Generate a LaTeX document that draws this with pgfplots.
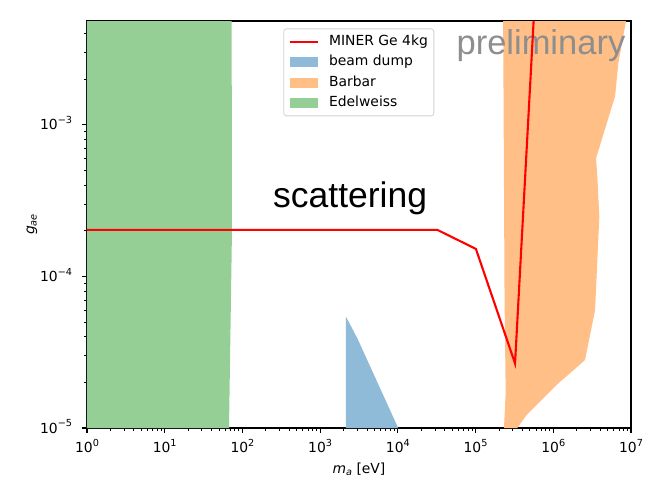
\documentclass[border=0pt]{standalone}
\usepackage{fontspec}
\setmainfont{DejaVu Sans}
\newfontfamily\helv{Liberation Sans}
\usepackage{pgfplots}
\pgfplotsset{compat=1.18}
\definecolor{cblue}{HTML}{8FBBD9}
\definecolor{corange}{HTML}{FFBF86}
\definecolor{cgreen}{HTML}{95CF95}
\definecolor{cgray}{HTML}{8E8E8E}
\pgfplotsset{
  linelegend/.style={legend image code/.code={\draw[##1, draw opacity=1] (0bp,0bp) -- (27.8bp,0bp);}},
  patchlegend/.style={legend image code/.code={\fill[##1, fill opacity=1, sharp corners] (0bp,-4.9bp) rectangle (27.8bp,4.9bp);}},
}
\newcommand\sups[1]{\raisebox{6.3bp}{\fontsize{9.7bp}{10bp}\selectfont #1}}
\newcommand\subs[1]{\raisebox{-2.2bp}{\fontsize{9.7bp}{10bp}\selectfont #1}}
\begin{document}
\fontsize{13.9bp}{16.7bp}\selectfont
\begin{tikzpicture}
\begin{axis}[
  scale only axis, width=544bp, height=407bp,
  xmode=log, ymode=log,
  xmin=1, xmax=1e7, ymin=1e-5, ymax=4.85e-3,
  axis line style={line width=1.1bp},
  tick pos=left, tick align=outside,
  major tick length=4.9bp, minor tick length=2.8bp,
  every tick/.style={black, line width=1.1bp},
  every minor tick/.style={black, line width=0.85bp},
  xtick={1,10,100,1000,10000,100000,1000000,10000000},
  xticklabels={10\sups{0},10\sups{1},10\sups{2},10\sups{3},10\sups{4},10\sups{5},10\sups{6},10\sups{7}},
  minor xtick={2,3,4,5,6,7,8,9,20,30,40,50,60,70,80,90,200,300,400,500,600,700,800,900,2e3,3e3,4e3,5e3,6e3,7e3,8e3,9e3,2e4,3e4,4e4,5e4,6e4,7e4,8e4,9e4,2e5,3e5,4e5,5e5,6e5,7e5,8e5,9e5,2e6,3e6,4e6,5e6,6e6,7e6,8e6,9e6},
  ytick={1e-5,1e-4,1e-3},
  yticklabels={10\sups{−5},10\sups{−4},10\sups{−3}},
  minor ytick={2e-5,3e-5,4e-5,5e-5,6e-5,7e-5,8e-5,9e-5,2e-4,3e-4,4e-4,5e-4,6e-4,7e-4,8e-4,9e-4,2e-3,3e-3,4e-3},
  xticklabel style={anchor=base, yshift=-20bp, inner sep=0pt, font=\fontsize{13.9bp}{16bp}\selectfont},
  yticklabel style={anchor=base east, xshift=-9.8bp, yshift=-5bp, inner sep=0pt, font=\fontsize{13.9bp}{16bp}\selectfont},
  xlabel={\textit{m}\subs{\textit{a}} [eV]},
  ylabel={\textit{g}\subs{\textit{ae}}},
  xlabel style={at={(axis description cs:0.5,0)}, anchor=base, yshift=-45bp, inner sep=0pt, font=\fontsize{13.9bp}{16bp}\selectfont},
  ylabel style={at={(axis description cs:-0.1011,0.5)}, anchor=center, inner sep=0pt, font=\fontsize{13.9bp}{16bp}\selectfont},
  legend cell align=left,
  legend style={at={(0.3608,0.9816)}, anchor=north west, draw=black!18, line width=0.8bp,
    rounded corners=2.8bp, fill=white, fill opacity=0.8, draw opacity=1, text opacity=1,
    font=\fontsize{13.9bp}{16bp}\selectfont, inner xsep=5bp, inner ysep=5bp,
    row sep=5bp, column sep=9.5bp,
    nodes={inner sep=1bp, text height=10.5bp, text depth=3bp}},
]
\addlegendimage{red, line width=2.1bp, linelegend}
\addlegendentry{MINER Ge 4kg}
\addlegendimage{fill=cblue, draw=none, patchlegend}
\addlegendentry{beam dump}
\addlegendimage{fill=corange, draw=none, patchlegend}
\addlegendentry{Barbar}
\addlegendimage{fill=cgreen, draw=none, patchlegend}
\addlegendentry{Edelweiss}

% Edelweiss
\addplot[fill=cgreen, draw=none, forget plot] coordinates {
  (1,1e-5) (1,6e-3) (72.6,6e-3) (73.4,2.03e-4) (67.2,1e-5)} -- cycle;
% beam dump
\addplot[fill=cblue, draw=none, forget plot] coordinates {
  (2.15e3,1e-5) (2.15e3,5.43e-5) (3.01e3,3.91e-5) (1.01e4,1e-5)} -- cycle;
% Barbar
\addplot[fill=corange, draw=none, forget plot] coordinates {
  (2.26e5,6e-3) (9.3e6,6e-3) (6.87e6,2.55e-3) (6.23e6,1.54e-3) (3.55e6,6.03e-4)
  (3.69e6,4.56e-4) (3.91e6,2.48e-4) (3.45e6,6.01e-5) (2.56e6,2.81e-5) (1.16e6,1.97e-5)
  (4.55e5,1.22e-5) (3.44e5,1e-5) (2.32e5,1e-5) (2.44e5,1.7e-5) (2.36e5,7.0e-5)} -- cycle;

\node[anchor=base west, inner sep=0pt, text=cgray, font=\helv\fontsize{34.5bp}{40bp}\selectfont]
  at (rel axis cs:0.6790,0.9189) {preliminary};
\node[anchor=base west, inner sep=0pt, font=\helv\fontsize{35.5bp}{40bp}\selectfont]
  at (rel axis cs:0.3419,0.5423) {scattering};

% MINER Ge 4kg
\addplot[red, line width=2.1bp, forget plot] coordinates {
  (1,2.03e-4) (3.22e4,2.03e-4) (1.01e5,1.52e-4) (3.22e5,2.67e-5) (5.71e5,6e-3)};
\end{axis}
\path (current axis.south west) ++(-87bp,-65bp) coordinate (bl);
\path (current axis.north east) ++(24bp,21bp) coordinate (tr);
\pgfresetboundingbox
\path[use as bounding box] (bl) rectangle (tr);
\end{tikzpicture}
\end{document}
